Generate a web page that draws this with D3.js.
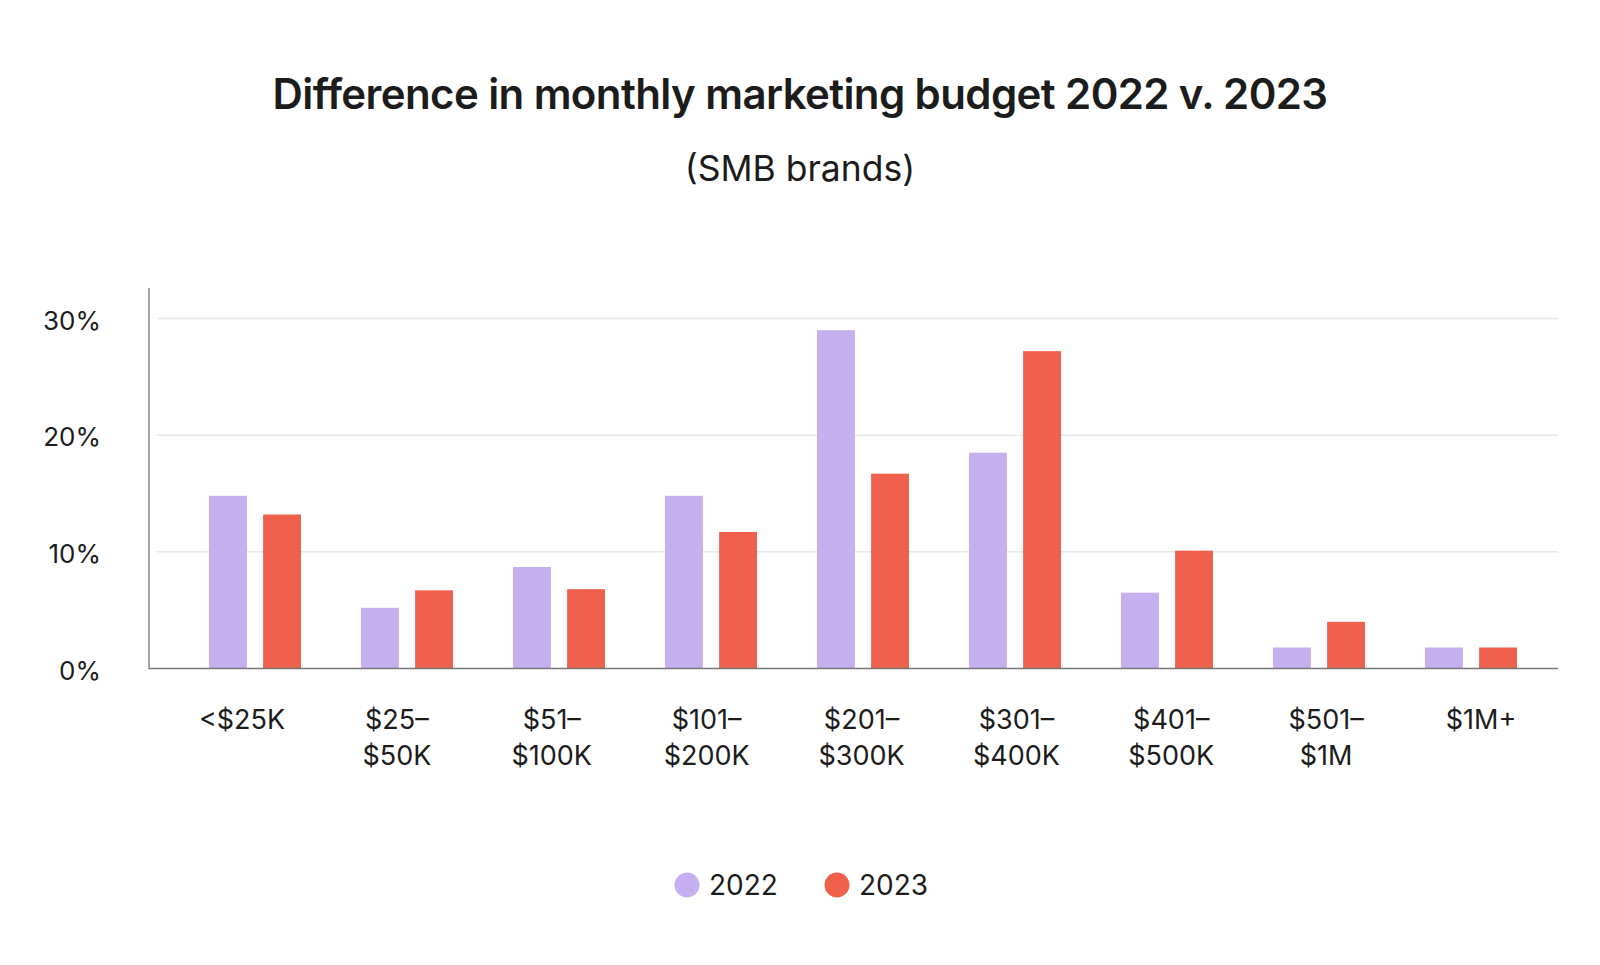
<!DOCTYPE html>
<html lang="en">
<head>
<meta charset="UTF-8" />
<title>Difference in monthly marketing budget 2022 v. 2023</title>
<script src="https://d3js.org/d3.v7.min.js"></script>
<style>
  body { margin: 0; background: #fff; }
  text { font-family: Inter, "Noto Sans", sans-serif; fill: #1c1c1c; }
</style>
</head>
<body>
<script>
var width = 1600, height = 965;

// data
var categories = [["<$25K"], ["$25–", "$50K"], ["$51–", "$100K"], ["$101–", "$200K"], ["$201–", "$300K"],
                  ["$301–", "$400K"], ["$401–", "$500K"], ["$501–", "$1M"], ["$1M+"]];
var series = ["2022", "2023"];
var values2022 = [14.8, 5.2, 8.7, 14.8, 29.0, 18.5, 6.5, 1.8, 1.8];
var values2023 = [13.2, 6.7, 6.8, 11.7, 16.7, 27.2, 10.1, 4.0, 1.8];
var yTicks = [0, 10, 20, 30];
var colors = ["#c7b0f0", "#ef604d"];

var svg = d3.select("body").append("svg").attr("width", width).attr("height", height);

svg.append("text").attr("x", 800).attr("y", 109).attr("text-anchor", "middle")
  .style("font-size", "42px").style("font-weight", 600).style("letter-spacing", "-0.6px")
  .text("Difference in monthly marketing budget 2022 v. 2023");
svg.append("text").attr("x", 800).attr("y", 181).attr("text-anchor", "middle")
  .style("font-size", "35.5px")
  .text("(SMB brands)");

var x = d3.scaleBand().domain(d3.range(categories.length)).range([179, 1547]);
var x1 = d3.scaleBand().domain(series).range([x.bandwidth() / 2 - 46, x.bandwidth() / 2 + 46]).paddingInner(0.3);
// labels sit on their own, slightly wider grid in the original
var xl = d3.scalePoint().domain(d3.range(categories.length)).range([242, 1481]);
var y = d3.scaleLinear().domain([0, 30]).range([668.5, 318.5]);

// gridlines
svg.append("g").selectAll("line").data(yTicks.slice(1)).join("line")
  .attr("x1", 157).attr("x2", 1558)
  .attr("y1", d => y(d)).attr("y2", d => y(d))
  .attr("stroke", "#e8e8e8").attr("stroke-width", 1.5);

// y labels
svg.append("g").selectAll("text").data(yTicks).join("text")
  .attr("x", 101).attr("y", d => y(d) + 11)
  .attr("text-anchor", "end").style("font-size", "26px")
  .text(d => d + "%");

// bars
var groups = svg.append("g").selectAll("g").data(categories).join("g")
  .attr("transform", (d, i) => "translate(" + x(i) + ",0)");
groups.selectAll("rect")
  .data((d, i) => [{ s: series[0], v: values2022[i] }, { s: series[1], v: values2023[i] }])
  .join("rect")
  .attr("x", d => x1(d.s)).attr("width", x1.bandwidth())
  .attr("y", d => y(d.v)).attr("height", d => y(0) - y(d.v))
  .attr("fill", (d, j) => colors[j]);

// axes lines
svg.append("line").attr("x1", 149).attr("x2", 149).attr("y1", 288).attr("y2", 669)
  .attr("stroke", "#888").attr("stroke-width", 1.5);
svg.append("line").attr("x1", 149).attr("x2", 1558).attr("y1", 668.5).attr("y2", 668.5)
  .attr("stroke", "#777").attr("stroke-width", 1.5);

// x labels
svg.append("g").selectAll("text").data(categories).join("text")
  .attr("text-anchor", "middle").style("font-size", "27px")
  .attr("transform", (d, i) => "translate(" + xl(i) + ",0)")
  .selectAll("tspan").data(d => d).join("tspan")
  .attr("x", 0).attr("y", (d, i) => 729 + i * 36)
  .text(d => d);

// legend
var legend = svg.append("g").selectAll("g").data(series).join("g")
  .attr("transform", (d, i) => "translate(" + (687 + i * 150) + ",885)");
legend.append("circle").attr("r", 12.5).attr("fill", (d, i) => colors[i]);
legend.append("text").attr("x", 22).attr("y", 10).style("font-size", "28px").text(d => d);
</script>
</body>
</html>
